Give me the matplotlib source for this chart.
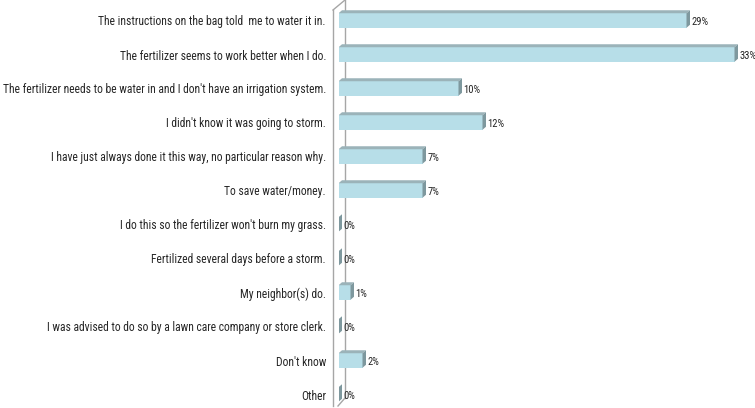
import matplotlib
matplotlib.use("Agg")
import matplotlib.pyplot as plt
from matplotlib.patches import Polygon
from matplotlib import font_manager

categories = [
    "The instructions on the bag told  me to water it in.",
    "The fertilizer seems to work better when I do.",
    "The fertilizer needs to be water in and I don't have an irrigation system.",
    "I didn't know it was going to storm.",
    "I have just always done it this way, no particular reason why.",
    "To save water/money.",
    "I do this so the fertilizer won't burn my grass.",
    "Fertilized several days before a storm.",
    "My neighbor(s) do.",
    "I was advised to do so by a lawn care company or store clerk.",
    "Don't know",
    "Other",
]
values = [29, 33, 10, 12, 7, 7, 0, 0, 1, 0, 2, 0]
value_labels = ["29%", "33%", "10%", "12%", "7%", "7%", "0%", "0%", "1%", "0%", "2%", "0%"]

names = {f.name for f in font_manager.fontManager.ttflist}
FONT = "DejaVu Sans"
for cand in ["Liberation Sans Narrow", "Roboto Condensed", "Open Sans Condensed", "Lato"]:
    if cand in names:
        FONT = cand
        break

FRONT = "#B7DEE8"
TOP = "#9BB3B9"
SIDE = "#7E989E"
WALL = "#A6A6A6"
TXT = "#262626"

W, H = 755, 408
fig = plt.figure(figsize=(W / 100, H / 100), dpi=100)
renderer = fig.canvas.get_renderer()


def fit_size(text, target_px, base=8.5):
    t = fig.text(0, 0, text, fontsize=base, family=FONT)
    w = t.get_window_extent(renderer).width
    t.remove()
    return base * target_px / w


cat_size = fit_size(categories[2], 324.0)
val_size = fit_size("33%", 17.0)

px_per_unit = 12.0
left_px = 338.5
row_px = 34.0
first_px = 20.5
ax = fig.add_axes([left_px / W, 0, 1 - left_px / W, 1])
ax.set_xlim(0, (W - left_px) / px_per_unit)
ax.set_ylim((H - first_px) / row_px, -first_px / row_px)

h = 14.5 / row_px          # bar front height
dx = 3.5 / px_per_unit     # depth in x
dy = 3.0 / row_px          # depth in y

# wall
wl = -5.5 / px_per_unit
wr = 6.5 / px_per_unit
n = len(categories)
top_b = (10 - first_px) / row_px
top_f = -first_px / row_px
bot_b = (406 - first_px) / row_px
bot_f = (398 - first_px) / row_px
ax.plot([wl, wl], [top_b, bot_b], color=WALL, lw=1.0, zorder=1, clip_on=False)
ax.plot([wr, wr], [top_f, bot_f], color=WALL, lw=1.0, zorder=1, clip_on=False)
ax.plot([wl, wr], [top_b, top_f], color=WALL, lw=1.0, zorder=1, clip_on=False)
ax.plot([wr, -0.5 / px_per_unit], [bot_f, bot_b], color=WALL, lw=1.0, zorder=1, clip_on=False)

ypos = list(range(n))
ax.barh(ypos, values, height=h, left=0, color=FRONT, edgecolor="none", zorder=3)
for y, v, lab in zip(ypos, values, value_labels):
    t = y - h / 2
    b = y + h / 2
    if v > 0:
        ax.add_patch(Polygon([(0, t), (v, t), (v + dx, t - dy), (dx, t - dy)],
                             closed=True, facecolor=TOP, edgecolor="none", zorder=3))
    ax.add_patch(Polygon([(v, t), (v, b), (v + dx, b - dy), (v + dx, t - dy)],
                         closed=True, facecolor=SIDE, edgecolor="none", zorder=3))
    ax.annotate(lab, xy=(v + dx, y + 0.04), xytext=(0.8, 0), textcoords="offset points",
                ha="left", va="center", fontsize=val_size, family=FONT, color=TXT,
                annotation_clip=False)

ax.set_yticks(ypos)
ax.set_yticklabels(categories, fontsize=cat_size, family=FONT, color=TXT)
ax.tick_params(axis="y", length=0, pad=9)
ax.set_xticks([])
for s in ax.spines.values():
    s.set_visible(False)
ax.patch.set_alpha(0)

fig.savefig("out.png", dpi=100)
